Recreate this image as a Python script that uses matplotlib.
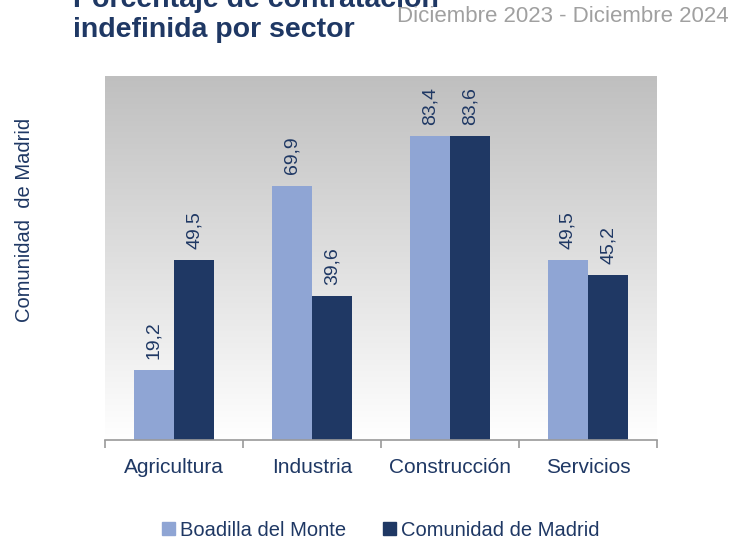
import numpy as np
import matplotlib.pyplot as plt
from matplotlib.patches import Patch

plt.rcParams['font.family'] = ['Liberation Sans', 'DejaVu Sans']

# Data
sectores = ['Agricultura', 'Industria', 'Construcción', 'Servicios']
boadilla = [19.2, 69.9, 83.4, 49.5]
madrid = [49.5, 39.6, 83.6, 45.2]
series = ['Boadilla del Monte', 'Comunidad de Madrid']

c_light = '#8FA5D4'
c_dark = '#1F3864'

fig = plt.figure(figsize=(7.45, 5.4), dpi=100)
ax = fig.add_axes([105/745, 100/540, 552/745, 364/540])

x = np.arange(len(sectores))
w = 0.29

# gradient background: grey at top to white at bottom
t = np.linspace(0, 1, 256).reshape(-1, 1, 1)
top = np.array([0.75, 0.75, 0.75])
bot = np.array([1.0, 1.0, 1.0])
grad = bot + (top - bot) * t
ax.imshow(grad, extent=[-0.5, 3.5, 0, 100], aspect='auto',
          zorder=0, origin='lower')

b1 = ax.bar(x - w/2, boadilla, w, color=c_light, edgecolor='none', zorder=2)
b2 = ax.bar(x + w/2, madrid, w, color=c_dark, edgecolor='none', zorder=2)

for bars, vals in [(b1, boadilla), (b2, madrid)]:
    for r, v in zip(bars, vals):
        ax.annotate(f'{v:.1f}'.replace('.', ','),
                    (r.get_x() + r.get_width()/2, r.get_height()),
                    xytext=(0, 8), textcoords='offset points',
                    rotation=90, ha='center', va='bottom',
                    fontsize=14, color=c_dark)

ax.set_xlim(-0.5, 3.5)
ax.set_ylim(0, 100)
ax.set_yticks([])
for s in ['top', 'right', 'left']:
    ax.spines[s].set_visible(False)
ax.spines['bottom'].set_color('#9a9a9a')
ax.spines['bottom'].set_linewidth(1.2)
ax.set_xticks(x)
ax.set_xticklabels(sectores, fontsize=15, color=c_dark)
ax.tick_params(axis='x', which='major', length=0, pad=13)
ax.set_xticks(np.arange(-0.5, 4, 1), minor=True)
ax.tick_params(axis='x', which='minor', length=6, width=1.2, color='#9a9a9a')

fig.text(25/745, 1 - 220/540, 'Comunidad  de Madrid', rotation=90,
         ha='center', va='center', fontsize=14.5, color=c_dark)

fig.text(73/745, 1 - 7/540, 'Porcentaje de contratación', fontsize=20.5,
         fontweight='bold', color=c_dark, ha='left', va='baseline')
fig.text(73/745, 1 - 37/540, 'indefinida por sector', fontsize=20.5,
         fontweight='bold', color=c_dark, ha='left', va='baseline')
fig.text(729/745, 1 - 22/540, 'Diciembre 2023 - Diciembre 2024', fontsize=16,
         color='#a0a0a0', ha='right', va='baseline')

handles = [Patch(color=c_light), Patch(color=c_dark)]
leg = fig.legend(handles, series, loc='center', bbox_to_anchor=(0.511, 1 - 530/540),
                 ncol=2, frameon=False, fontsize=14.5, handlelength=0.65,
                 handleheight=0.65, handletextpad=0.25, columnspacing=1.8)
for txt in leg.get_texts():
    txt.set_color(c_dark)

fig.savefig('out.png', dpi=100)
